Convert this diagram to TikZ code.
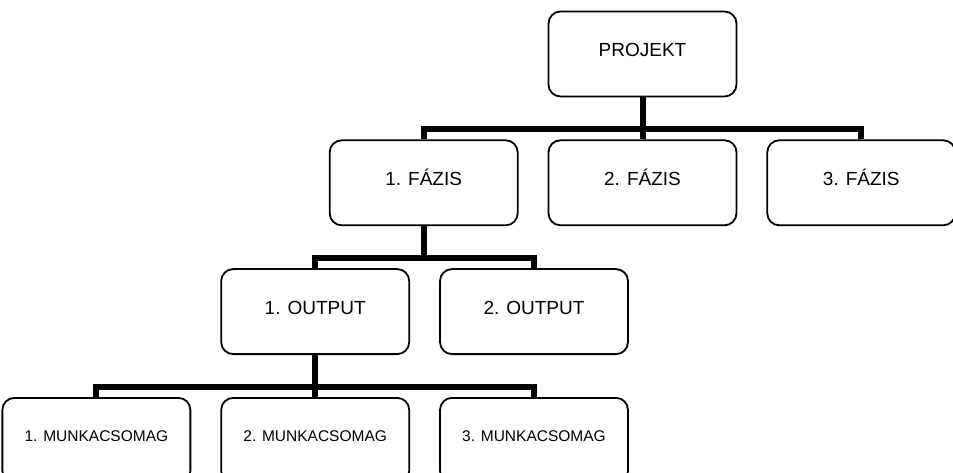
\documentclass[tikz,border=0pt]{standalone}
\usepackage{fontspec}
\setmainfont{Liberation Sans}
\usetikzlibrary{positioning}

\begin{document}
\begin{tikzpicture}[x=1pt, y=1pt,
  node distance=42pt and 29pt,
  wbs/.style={draw=black, line width=1.8pt, rounded corners=12pt, fill=white,
    minimum width=188pt, minimum height=85pt, inner sep=0pt, align=center,
    font=\fontsize{19}{22}\selectfont, text height=13.6pt, text depth=8pt},
  wbssmall/.style={wbs, font=\fontsize{15.5}{18}\selectfont,
    text height=11.1pt, text depth=9pt},
  link/.style={line width=6pt}]

  \useasboundingbox (-642.5,-419) rectangle (310.5,54);

  % levels of the breakdown
  \node[wbs] (projekt) at (0,0) {PROJEKT};
  \node[wbs, below=of projekt] (fazis2) {2. FÁZIS};
  \node[wbs, left=of fazis2] (fazis1) {1. FÁZIS};
  \node[wbs, right=of fazis2] (fazis3) {3. FÁZIS};
  \node[wbs, below=of fazis1, xshift=-108.5pt] (output1) {1. OUTPUT};
  \node[wbs, right=of output1] (output2) {2. OUTPUT};
  \node[wbssmall, below=of output1] (munka2) {2. MUNKACSOMAG};
  \node[wbssmall, left=of munka2] (munka1) {1. MUNKACSOMAG};
  \node[wbssmall, right=of munka2] (munka3) {3. MUNKACSOMAG};

  % connectors
  \draw[link] (projekt.south) |- ([yshift=10pt]fazis1.north) -- (fazis1.north);
  \draw[link] (projekt.south) -- (fazis2.north);
  \draw[link] (projekt.south) |- ([yshift=10pt]fazis3.north) -- (fazis3.north);
  \draw[link] (fazis1.south) |- ([yshift=10pt]output1.north) -- (output1.north);
  \draw[link] (fazis1.south) |- ([yshift=10pt]output2.north) -- (output2.north);
  \draw[link] (output1.south) |- ([yshift=10pt]munka1.north) -- (munka1.north);
  \draw[link] (output1.south) -- (munka2.north);
  \draw[link] (output1.south) |- ([yshift=10pt]munka3.north) -- (munka3.north);
\end{tikzpicture}
\end{document}
